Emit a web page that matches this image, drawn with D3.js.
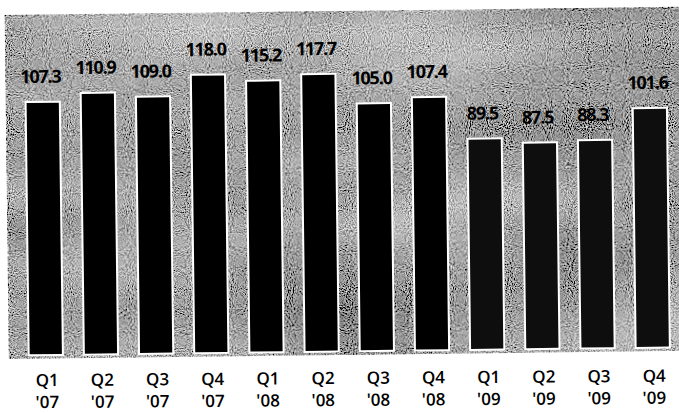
<!DOCTYPE html>
<html>
<head>
<meta charset="utf-8">
<script src="https://cdn.jsdelivr.net/npm/d3@7/dist/d3.min.js"></script>
<style>
  html, body { margin: 0; padding: 0; background: #fff; }
  svg { display: block; }
</style>
</head>
<body>
<svg id="chart" width="679" height="413"></svg>
<script>
// Quarterly values, 2007–2009
const quarters = ["Q1", "Q2", "Q3", "Q4", "Q1", "Q2", "Q3", "Q4", "Q1", "Q2", "Q3", "Q4"];
const years    = ["'07", "'07", "'07", "'07", "'08", "'08", "'08", "'08", "'09", "'09", "'09", "'09"];
const values   = [107.3, 110.9, 109.0, 118.0, 115.2, 117.7, 105.0, 107.4, 89.5, 87.5, 88.3, 101.6];
const valueLabels = ["107.3", "110.9", "109.0", "118.0", "115.2", "117.7", "105.0", "107.4", "89.5", "87.5", "88.3", "101.6"];

const data = values.map((v, i) => ({ i, q: quarters[i], yr: years[i], v, label: valueLabels[i] }));

const W = 679, H = 413;
const baseY = 351.5;
const svg = d3.select("#chart");

// fine halftone grain for the plot panel
const defs = svg.append("defs");
const f = defs.append("filter").attr("id", "grain")
  .attr("x", 0).attr("y", 0).attr("width", 1).attr("height", 1);
f.append("feTurbulence").attr("type", "fractalNoise").attr("baseFrequency", "0.95")
  .attr("numOctaves", 1).attr("seed", 3).attr("result", "fine");
f.append("feTurbulence").attr("type", "fractalNoise").attr("baseFrequency", "0.004 0.012")
  .attr("numOctaves", 2).attr("seed", 8).attr("result", "coarse");
f.append("feComposite").attr("in", "fine").attr("in2", "coarse").attr("operator", "arithmetic")
  .attr("k1", 0).attr("k2", 1).attr("k3", 0.2).attr("k4", -0.1).attr("result", "mix");
f.append("feColorMatrix").attr("in", "mix").attr("type", "matrix")
  .attr("values", "2.0 0 0 0 -0.43  2.0 0 0 0 -0.43  2.0 0 0 0 -0.43  0 0 0 0 1");

const x = d3.scalePoint().domain(d3.range(data.length)).range([44, 651]);
const bw = x.step() * 0.62;
const y = d3.scaleLinear().domain([0, 120]).range([baseY, baseY - 283.2]);

const g = svg.append("g").attr("transform", "rotate(-0.7, 340, 206)");

// textured panel
g.append("rect")
  .attr("x", 7).attr("y", 11.5).attr("width", W + 20).attr("height", baseY + 3 - 11.5)
  .attr("fill", "#909090")
  .attr("filter", "url(#grain)");

// bars
g.selectAll("rect.bar").data(data).join("rect")
  .attr("class", "bar")
  .attr("x", d => x(d.i) - bw / 2)
  .attr("y", d => y(d.v))
  .attr("width", bw)
  .attr("height", d => y(0) - y(d.v))
  .attr("fill", d => d.yr === "'09" ? "#0e0e0e" : "#000")
  .attr("stroke", "#fff")
  .attr("stroke-width", 2);

// value labels
g.selectAll("text.val").data(data).join("text")
  .attr("class", "val")
  .attr("x", d => x(d.i) - 2)
  .attr("y", d => y(d.v) - 19)
  .attr("text-anchor", "middle")
  .attr("font-family", "'Open Sans', sans-serif")
  .attr("font-weight", 700)
  .attr("font-size", 18)
  .attr("letter-spacing", "-1.2px")
  .attr("fill", "#000")
  .text(d => d.label);

// category axis labels (quarter / year)
const axisG = svg.append("g").attr("transform", "rotate(-0.4, 340, 206)");
const lab = axisG.selectAll("text.cat").data(data).join("text")
  .attr("class", "cat")
  .attr("text-anchor", "middle")
  .attr("font-family", "'Open Sans', sans-serif")
  .attr("font-weight", 600)
  .attr("font-size", 17)
  .attr("fill", "#000");
lab.append("tspan").attr("x", d => x(d.i) + 2).attr("y", 384).text(d => d.q);
lab.append("tspan").attr("x", d => x(d.i) + 2).attr("y", 406).text(d => d.yr);
</script>
</body>
</html>
